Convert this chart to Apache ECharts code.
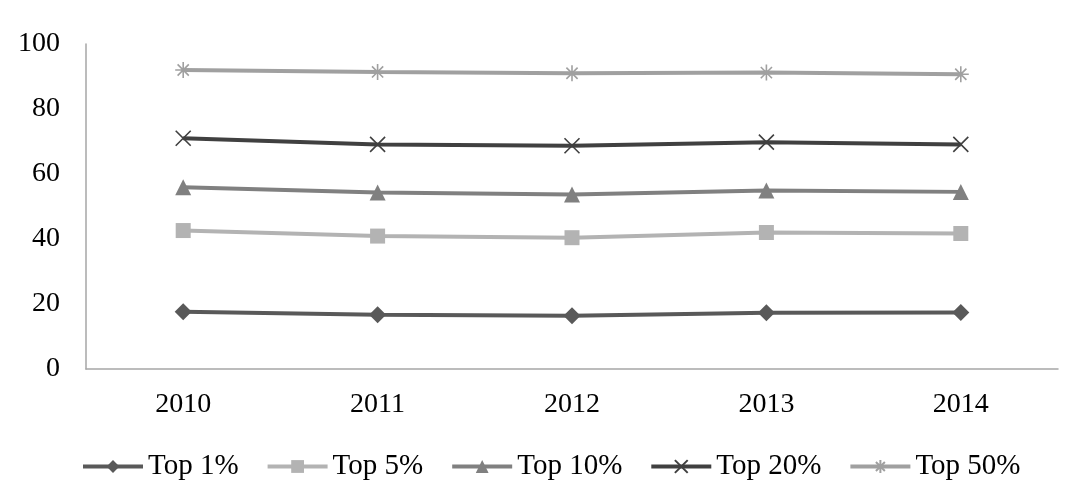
<!DOCTYPE html>
<html>
<head>
<meta charset="utf-8">
<script src="https://cdn.jsdelivr.net/npm/echarts@6/dist/echarts.min.js"></script>
<style>
  html, body { margin: 0; padding: 0; background: #fff; }
  #chart { width: 1080px; height: 499px; }
</style>
</head>
<body>
<div id="chart"></div>
<script>
// data
const years = ['2010', '2011', '2012', '2013', '2014'];
const top1 = [17.6, 16.7, 16.4, 17.3, 17.4];
const top5 = [42.6, 40.9, 40.4, 42.0, 41.7];
const top10 = [55.9, 54.3, 53.7, 54.9, 54.5];
const top20 = [71.0, 69.1, 68.7, 69.8, 69.1];
const top50 = [92.0, 91.4, 91.0, 91.2, 90.7];

const crossPath = 'path://M0,0L10,10M10,0L0,10';
const starPath = 'path://M5,0L5,10M0,5L10,5M1.5,1.5L8.5,8.5M8.5,1.5L1.5,8.5';

const font = '"Liberation Serif", "Times New Roman", serif';

function line(name, data, color, symbol, size, stroked) {
  return {
    name: name,
    type: 'line',
    data: data,
    symbol: symbol,
    symbolSize: size,
    lineStyle: { color: color, width: 4 },
    itemStyle: stroked
      ? { color: 'transparent', borderColor: color, borderWidth: 1.6 }
      : { color: color },
    z: 2
  };
}

let chart = echarts.init(document.getElementById('chart'));
chart.setOption({
  animation: false,
  textStyle: { fontFamily: font },
  grid: { left: 86, right: 22, top: 44, bottom: 130 },
  legend: {
    bottom: 13,
    left: 76,
    itemWidth: 60,
    itemHeight: 16,
    itemGap: 27,
    lineStyle: { width: 4 },
    textStyle: { fontFamily: font, fontSize: 29, color: '#000' }
  },
  xAxis: {
    type: 'category',
    data: years,
    axisLine: { lineStyle: { color: '#a6a6a6', width: 1.5 } },
    axisTick: { show: false },
    axisLabel: { fontFamily: font, fontSize: 28, color: '#000', margin: 22 }
  },
  yAxis: {
    type: 'value',
    min: 0,
    max: 100,
    interval: 20,
    axisLine: { show: true, lineStyle: { color: '#a6a6a6', width: 1.5 } },
    axisTick: { show: false },
    splitLine: { show: false },
    axisLabel: { fontFamily: font, fontSize: 28, color: '#000', margin: 26 }
  },
  series: [
    line('Top 1%', top1, '#595959', 'diamond', 17, false),
    line('Top 5%', top5, '#b3b3b3', 'rect', 15, false),
    line('Top 10%', top10, '#808080', 'triangle', 16, false),
    line('Top 20%', top20, '#404040', crossPath, 15, true),
    line('Top 50%', top50, '#a0a0a0', starPath, 16, true)
  ]
});
</script>
</body>
</html>
